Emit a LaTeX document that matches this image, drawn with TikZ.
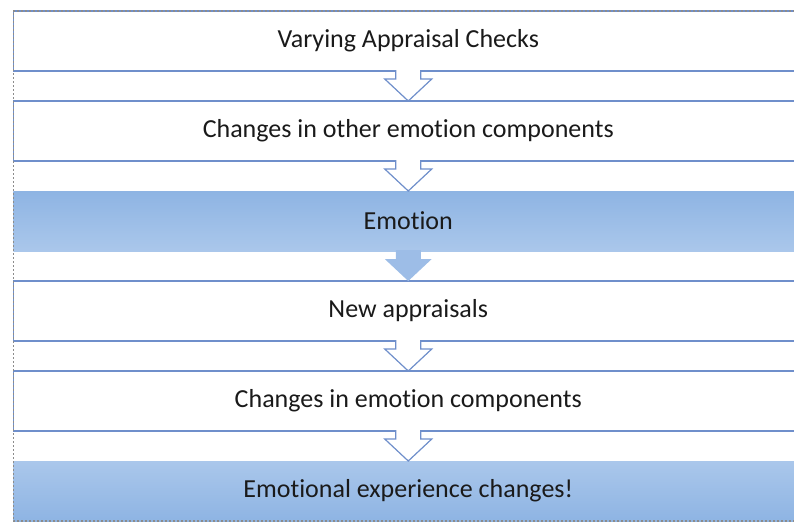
\documentclass[tikz,border=0pt]{standalone}
\usepackage{fontspec}
\setmainfont{Carlito}[Ligatures=NoCommon]
\usetikzlibrary{calc, positioning}
\definecolor{Stage_Blue}{HTML}{6F8FCB}
\definecolor{Frame_Gray}{HTML}{8C8C8C}
\definecolor{Shade_Dark}{HTML}{8EB4E3}
\definecolor{Shade_Light}{HTML}{AAC7EB}
\definecolor{Arrow_Fill}{HTML}{9DBDE7}
\definecolor{Ink}{HTML}{1A1A1A}

% block arrow hanging from the bottom of #1 down to the top of #2
\newcommand{\stagearrow}[3]{%
    \path[#3] ($(#1.south)+(-12.5,1)$) -- ($(#1.south)+(-12.5,-8)$)
        -- ($(#1.south)+(-23.5,-8)$) -- (#2.north)
        -- ($(#1.south)+(23.5,-8)$) -- ($(#1.south)+(12.5,-8)$)
        -- ($(#1.south)+(12.5,1)$);
}

\begin{document}
\begin{tikzpicture}[x=1pt, y=1pt,
    stage/.style={minimum width=790pt, minimum height=60pt, inner sep=0pt, outer sep=0pt,
        font=\fontsize{26}{31}\selectfont, text=Ink},
    plain/.style={stage, draw=Stage_Blue, line width=1.5pt, fill=white},
    shaded/.style={stage, top color=Shade_Dark, bottom color=Shade_Light},
    shadedup/.style={stage, top color=Shade_Light, bottom color=Shade_Dark},
    hollow/.style={draw=Stage_Blue, line width=1.2pt, fill=white, line join=miter},
    solid/.style={fill=Arrow_Fill}]
    \useasboundingbox (0,0) rectangle (794,-523);
    \clip (0,0) rectangle (794,-523);

    \node[plain] (checks) at (408.25,-41) {Varying Appraisal Checks};
    \node[plain, below=30pt of checks] (other) {Changes in other emotion components};
    \node[shaded, below=30pt of other] (emotion) {Emotion};
    \node[plain, below=30pt of emotion] (newapp) {New appraisals};
    \node[plain, below=30pt of newapp] (comps) {Changes in emotion components};
    \node[shadedup, below=30pt of comps] (exper) {Emotional experience changes!};

    \stagearrow{checks}{other}{hollow}
    \stagearrow{other}{emotion}{hollow}
    \stagearrow{emotion}{newapp}{solid}
    \stagearrow{newapp}{comps}{hollow}
    \stagearrow{comps}{exper}{hollow}

    % dotted outline round the whole list
    \draw[Frame_Gray, line width=1.2pt, dash pattern=on 2pt off 2pt]
        (checks.north east) -- (checks.north west) -- (exper.south west) -- (exper.south east);
\end{tikzpicture}
\end{document}
